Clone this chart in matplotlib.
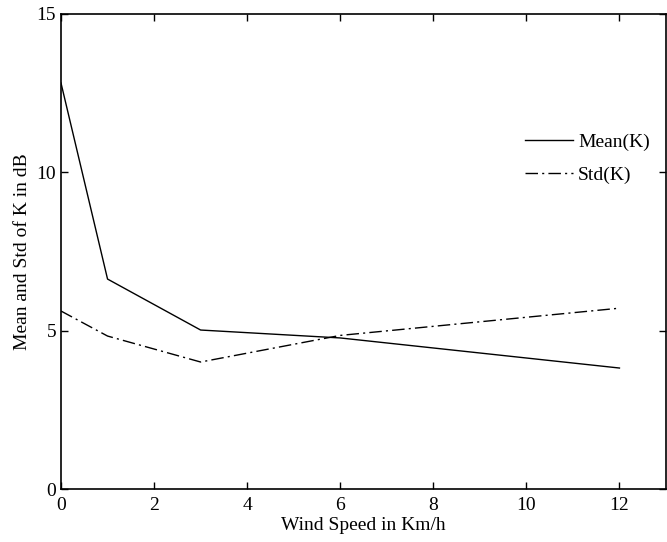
import matplotlib
matplotlib.use("Agg")
import matplotlib.pyplot as plt

wind_speed = [0, 1, 3, 6, 12]
mean_k = [12.82, 6.63, 5.02, 4.77, 3.82]
std_k = [5.62, 4.83, 4.01, 4.85, 5.71]

plt.rcParams['font.family'] = ['Liberation Serif', 'DejaVu Serif']
fig = plt.figure(figsize=(6.67, 5.42), dpi=100)
ax = fig.add_axes([61/667, 53/542, 605/667, 475/542])

ax.plot(wind_speed, mean_k, color='black', lw=1.0, label='Mean(K)')
ax.plot(wind_speed, std_k, color='black', lw=1.0, dashes=(9, 3, 1.5, 3), label='Std(K)')

ax.set_xlim(0, 13)
ax.set_ylim(0, 15)
ax.set_xticks([0, 2, 4, 6, 8, 10, 12])
ax.set_yticks([0, 5, 10, 15])
ax.tick_params(direction='in', top=True, right=True, labelsize=14, length=5, width=1)
ax.tick_params(axis='x', pad=6)
for s in ax.spines.values():
    s.set_linewidth(1.2)
ax.set_xlabel('Wind Speed in Km/h', fontsize=14, labelpad=2)
ax.set_ylabel('Mean and Std of K in dB', fontsize=14, labelpad=4)

leg = ax.legend(loc='upper left', bbox_to_anchor=(0.754, 0.766), frameon=False,
                fontsize=14, handlelength=2.47, handletextpad=0.26, labelspacing=0.8,
                borderaxespad=0)

fig.savefig('out.png', dpi=100)
